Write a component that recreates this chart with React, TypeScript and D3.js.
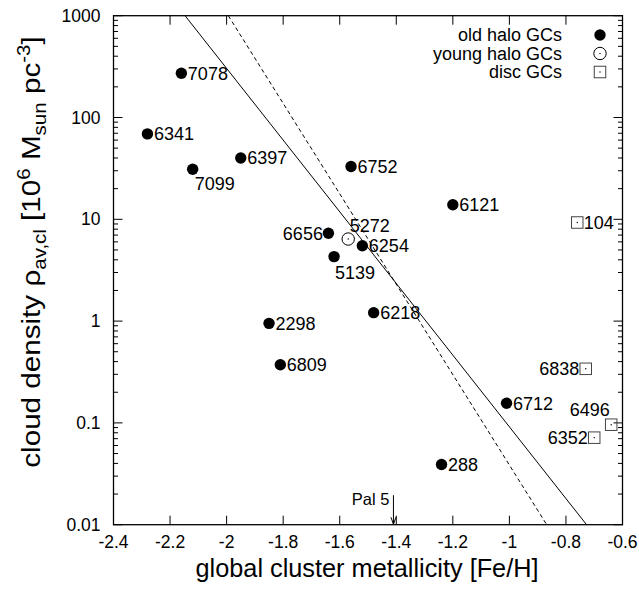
import React from "react";
import * as d3 from "d3";

// ---------- data ----------
const oldNames = ["7078", "6341", "7099", "6397", "6752", "6121", "6656", "6254", "5139", "2298", "6809", "6218", "6712", "288"];
const oldFeH = [-2.16, -2.28, -2.12, -1.95, -1.56, -1.2, -1.64, -1.52, -1.62, -1.85, -1.81, -1.48, -1.01, -1.24];
const oldRho = [272, 69, 31, 40, 33, 13.9, 7.3, 5.5, 4.3, 0.95, 0.373, 1.21, 0.156, 0.039];

const youngNames = ["5272"];
const youngFeH = [-1.57];
const youngRho = [6.4];

const discNames = ["104", "6838", "6496", "6352"];
const discFeH = [-0.76, -0.73, -0.64, -0.7];
const discRho = [9.3, 0.34, 0.096, 0.0716];

// fit lines (end points in data units)
const solidFitFeH = [-2.147, -0.727];
const solidFitRho = [1000, 0.01];
const dashedFitFeH = [-1.994, -0.868];
const dashedFitRho = [1000, 0.01];

// Pal 5 marker
const pal5FeH = -1.41;
const pal5Rho = [0.0195, 0.0101];

const xTicks = [-2.4, -2.2, -2, -1.8, -1.6, -1.4, -1.2, -1, -0.8, -0.6];
const xTickLabels = ["-2.4", "-2.2", "-2", "-1.8", "-1.6", "-1.4", "-1.2", "-1", "-0.8", "-0.6"];
const yTicks = [0.01, 0.1, 1, 10, 100, 1000];
const yTickLabels = ["0.01", "0.1", "1", "10", "100", "1000"];

const legendLabels = ["old halo GCs", "young halo GCs", "disc GCs"];

// label placement (layout, not data)
type Place = { dx: number; dy: number; anchor: "start" | "end" };
const R: Place = { dx: 6.5, dy: 0, anchor: "start" };
const placement: Record<string, Place> = {
  "7099": { dx: 2, dy: 14, anchor: "start" },
  "6656": { dx: -5.5, dy: 0, anchor: "end" },
  "5272": { dx: 1.5, dy: -13, anchor: "start" },
  "5139": { dx: 1, dy: 16, anchor: "start" },
  "104": { dx: 6.5, dy: 0, anchor: "start" },
  "6838": { dx: -6.5, dy: 0, anchor: "end" },
  "6496": { dx: -1.5, dy: -15.5, anchor: "end" },
  "6352": { dx: -6.5, dy: 0, anchor: "end" },
};

const W = 639;
const H = 589;
const L = 113.5;
const Rr = 622.5;
const T = 15.7;
const B = 524.7;
const FONT = "'Liberation Sans', Arial, Helvetica, sans-serif";

export default function App() {
  const x = d3.scaleLinear().domain([-2.4, -0.6]).range([L, Rr]);
  const y = d3.scaleLog().domain([0.01, 1000]).range([B, T]);

  const minor: number[] = [];
  for (let e = -2; e < 3; e++) {
    for (let m = 2; m <= 9; m++) minor.push(m * Math.pow(10, e));
  }

  const line = d3
    .line<[number, number]>()
    .x((d) => x(d[0]))
    .y((d) => y(d[1]));

  const solidPts: [number, number][] = solidFitFeH.map((v, i) => [v, solidFitRho[i]]);
  const dashedPts: [number, number][] = dashedFitFeH.map((v, i) => [v, dashedFitRho[i]]);

  const label = (name: string, cx: number, cy: number) => {
    const p = placement[name] || R;
    return (
      <text
        key={"l" + name}
        x={cx + p.dx}
        y={cy + p.dy}
        dy="0.35em"
        textAnchor={p.anchor}
        fontSize={18}
        fill="#000"
      >
        {name}
      </text>
    );
  };

  const sq = 11.5;
  const legendX = 600;
  const legendTextX = 562;
  const legendY = [35, 53.5, 72];

  const p5x = x(pal5FeH);

  return (
    <svg
      width={W}
      height={H}
      style={{ position: "absolute", left: 0, top: 0, background: "#fff" }}
      fontFamily={FONT}
    >
      <rect x={0} y={0} width={W} height={H} fill="#fff" />
      <defs>
        <clipPath id="plotclip">
          <rect x={L} y={T} width={Rr - L} height={B - T} />
        </clipPath>
      </defs>

      {/* fit lines */}
      <g clipPath="url(#plotclip)">
        <path d={line(solidPts) || ""} fill="none" stroke="#000" strokeWidth={1} />
        <path d={line(dashedPts) || ""} fill="none" stroke="#000" strokeWidth={1} strokeDasharray="4,3" />
      </g>

      {/* frame */}
      <rect x={L} y={T} width={Rr - L} height={B - T} fill="none" stroke="#000" strokeWidth={1.3} />

      {/* x ticks */}
      {xTicks.map((t, i) => (
        <g key={"xt" + i}>
          <line x1={x(t)} x2={x(t)} y1={B} y2={B - 9} stroke="#000" strokeWidth={1} />
          <line x1={x(t)} x2={x(t)} y1={T} y2={T + 9} stroke="#000" strokeWidth={1} />
          <text x={x(t)} y={B + 23} textAnchor="middle" fontSize={17.5}>
            {xTickLabels[i]}
          </text>
        </g>
      ))}

      {/* y ticks */}
      {yTicks.map((t, i) => (
        <g key={"yt" + i}>
          <line x1={L} x2={L + 9} y1={y(t)} y2={y(t)} stroke="#000" strokeWidth={1} />
          <line x1={Rr} x2={Rr - 9} y1={y(t)} y2={y(t)} stroke="#000" strokeWidth={1} />
          <text x={L - 13} y={y(t)} dy="0.35em" textAnchor="end" fontSize={17.5}>
            {yTickLabels[i]}
          </text>
        </g>
      ))}
      {minor.map((t, i) => (
        <g key={"ym" + i}>
          <line x1={L} x2={L + 4.5} y1={y(t)} y2={y(t)} stroke="#000" strokeWidth={1} />
          <line x1={Rr} x2={Rr - 4.5} y1={y(t)} y2={y(t)} stroke="#000" strokeWidth={1} />
        </g>
      ))}

      {/* Pal 5 arrow */}
      <line x1={p5x} x2={p5x} y1={y(pal5Rho[0])} y2={y(pal5Rho[1])} stroke="#000" strokeWidth={1} />
      <path
        d={`M${p5x - 2.5},${y(pal5Rho[1]) - 7} L${p5x},${y(pal5Rho[1])} L${p5x + 2.5},${y(pal5Rho[1]) - 7}`}
        fill="none"
        stroke="#000"
        strokeWidth={1}
      />
      <text x={p5x - 4} y={y(pal5Rho[0]) + 9.5} textAnchor="end" fontSize={16.5}>
        Pal 5
      </text>

      {/* old halo */}
      {oldNames.map((n, i) => (
        <g key={"o" + n}>
          <circle cx={x(oldFeH[i])} cy={y(oldRho[i])} r={5.7} fill="#000" />
          {label(n, x(oldFeH[i]), y(oldRho[i]))}
        </g>
      ))}

      {/* young halo */}
      {youngNames.map((n, i) => (
        <g key={"y" + n}>
          <circle cx={x(youngFeH[i])} cy={y(youngRho[i])} r={6.2} fill="none" stroke="#000" strokeWidth={1} />
          <circle cx={x(youngFeH[i])} cy={y(youngRho[i])} r={0.7} fill="#000" />
          {label(n, x(youngFeH[i]), y(youngRho[i]))}
        </g>
      ))}

      {/* disc */}
      {discNames.map((n, i) => (
        <g key={"d" + n}>
          <rect
            x={x(discFeH[i]) - sq / 2}
            y={y(discRho[i]) - sq / 2}
            width={sq}
            height={sq}
            fill="none"
            stroke="#444"
            strokeWidth={1}
          />
          <circle cx={x(discFeH[i])} cy={y(discRho[i])} r={0.7} fill="#000" />
          {label(n, x(discFeH[i]), y(discRho[i]))}
        </g>
      ))}

      {/* legend */}
      {legendLabels.map((t, i) => (
        <text key={"lg" + i} x={legendTextX} y={legendY[i]} dy="0.35em" textAnchor="end" fontSize={18}>
          {t}
        </text>
      ))}
      <circle cx={legendX} cy={legendY[0]} r={5.7} fill="#000" />
      <circle cx={legendX} cy={legendY[1]} r={6.2} fill="none" stroke="#000" strokeWidth={1} />
      <circle cx={legendX} cy={legendY[1]} r={0.7} fill="#000" />
      <rect x={legendX - sq / 2} y={legendY[2] - sq / 2} width={sq} height={sq} fill="none" stroke="#444" strokeWidth={1} />
      <circle cx={legendX} cy={legendY[2]} r={0.7} fill="#000" />

      {/* axis titles */}
      <text x={(L + Rr) / 2 - 1} y={577} textAnchor="middle" fontSize={25.3}>
        global cluster metallicity [Fe/H]
      </text>
      <text transform="translate(40,252) rotate(-90) scale(1.14,1)" textAnchor="middle" fontSize={26}>
        cloud density ρ
        <tspan fontSize={18} dy={6}>av,cl</tspan>
        <tspan fontSize={26} dy={-6}> [10</tspan>
        <tspan fontSize={18} dy={-10}>6</tspan>
        <tspan fontSize={26} dy={10}> M</tspan>
        <tspan fontSize={18} dy={6}>sun</tspan>
        <tspan fontSize={26} dy={-6}> pc</tspan>
        <tspan fontSize={18} dy={-10}>-3</tspan>
        <tspan fontSize={26} dy={10}>]</tspan>
      </text>
    </svg>
  );
}
